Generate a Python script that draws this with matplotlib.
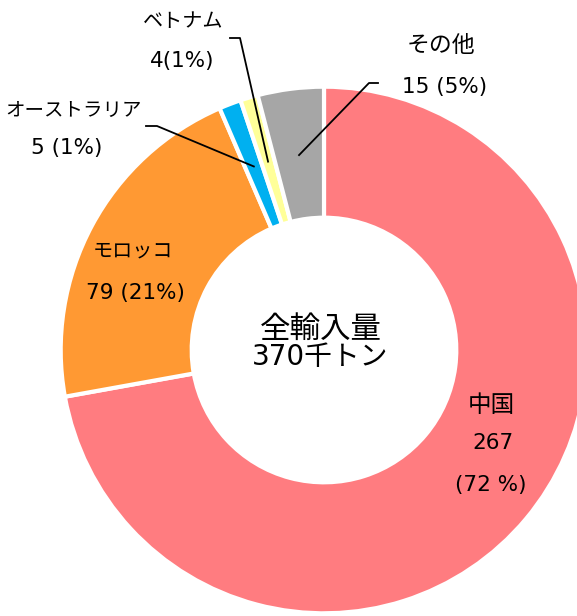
import numpy as np
import matplotlib.pyplot as plt

plt.rcParams['font.family'] = ['DejaVu Sans', 'Noto Sans CJK JP']

names = ['中国', 'モロッコ', 'オーストラリア', 'ベトナム', 'その他']
values = [267, 79, 5, 4, 15]
value_lines = [['267', '(72 %)'], ['79 (21%)'], ['5 (1%)'], ['4(1%)'], ['15 (5%)']]
colors = ['#FF7C80', '#FF9933', '#00B0F0', '#FFFF99', '#A6A6A6']
center_lines = ['全輸入量', '370千トン']

W, H = 577, 616
cx, cy, R = 324, 350, 262


def px(x, y):
    # pixel position -> data coords (pie radius 1)
    return (x - cx) / R, (cy - y) / R


fig = plt.figure(figsize=(W / 100, H / 100), dpi=100)
ax = fig.add_axes([0, 0, 1, 1])

wedges, _ = ax.pie(values, colors=colors, startangle=90, counterclock=False,
                   radius=1.005, wedgeprops=dict(width=0.5, edgecolor='white', linewidth=3))

ax.set_xlim(-cx / R, (W - cx) / R)
ax.set_ylim(-(H - cy) / R, cy / R)
ax.set_aspect('auto')
ax.axis('off')

# name line position + size, then value lines (pixels)
name_pos = [(491, 405), (133, 251), (74, 110), (183, 21), (441, 45)]
name_size = [17, 14.5, 14, 14.5, 16.5]
value_pos = [[(493, 443), (491, 485)], [(135, 293)], [(67, 148)], [(182, 61)], [(445, 87)]]

for n, (lx, ly), s, vl, vp in zip(names, name_pos, name_size, value_lines, value_pos):
    ax.text(*px(lx, ly), n, ha='center', va='center', fontsize=s)
    for t, p in zip(vl, vp):
        ax.text(*px(*p), t, ha='center', va='center', fontsize=15.5)

# leader lines for small slices
elbows = {2: [(157, 126), (146, 126)], 3: [(240, 38), (230, 38)], 4: [(369, 83), (378, 83)]}
for i, pts in elbows.items():
    w = wedges[i]
    ang = np.deg2rad((w.theta1 + w.theta2) / 2)
    ax0, ay0 = 0.75 * np.cos(ang), 0.75 * np.sin(ang)
    xs = [ax0] + [px(*p)[0] for p in pts]
    ys = [ay0] + [px(*p)[1] for p in pts]
    ax.plot(xs, ys, color='black', linewidth=1.3)

ax.text(*px(321, 329), center_lines[0], ha='center', va='center', fontsize=22)
ax.text(*px(320, 357), center_lines[1], ha='center', va='center', fontsize=20)

fig.savefig('out.png', dpi=100)
